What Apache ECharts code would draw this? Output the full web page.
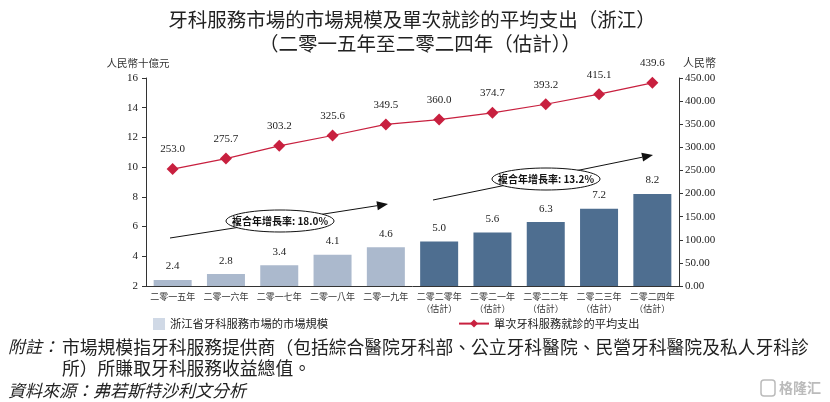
<!DOCTYPE html>
<html><head><meta charset="utf-8">
<script src="https://cdn.jsdelivr.net/npm/echarts@6/dist/echarts.min.js"></script>
<style>html,body{margin:0;padding:0;background:#fff}#c{width:830px;height:402px}</style>
</head><body><div id="c"></div>
<script>
const categories = ['二零一五年','二零一六年','二零一七年','二零一八年','二零一九年','二零二零年\n（估計）','二零二一年\n（估計）','二零二二年\n（估計）','二零二三年\n（估計）','二零二四年\n（估計）'];
const marketSize = [2.4, 2.8, 3.4, 4.1, 4.6, 5.0, 5.6, 6.3, 7.2, 8.2];
const avgSpend = [253.0, 275.7, 303.2, 325.6, 349.5, 360.0, 374.7, 393.2, 415.1, 439.6];
const leftTicks = {min: 2, max: 16, interval: 2};
const rightTicks = {min: 0, max: 450, interval: 50};
const seriesNames = ['浙江省牙科服務市場的市場規模', '單次牙科服務就診的平均支出'];
const cagrLabels = ['複合年增長率: 18.0%', '複合年增長率: 13.2%'];

const LIGHT = '#abb9cd', DARK = '#4e6e90', RED = '#c8203f';
const serif = '"Liberation Serif","DejaVu Serif",serif';
const cjk = '"Noto Sans CJK TC","Noto Sans CJK SC",sans-serif';

const chart = echarts.init(document.getElementById('c'));
const barData = marketSize.map((v, i) => ({value: v, itemStyle: {color: categories[i].indexOf('估計') >= 0 ? DARK : LIGHT}}));

function arrow(x1, y1, x2, y2) {
  const a = Math.atan2(y2 - y1, x2 - x1), L = 11, W = 4.5;
  const bx = x2 - L * Math.cos(a), by = y2 - L * Math.sin(a);
  return [
    {type: 'line', shape: {x1, y1, x2: bx, y2: by}, style: {stroke: '#111', lineWidth: 1}},
    {type: 'polygon', shape: {points: [[x2, y2], [bx - W * Math.sin(a), by + W * Math.cos(a)], [bx + W * Math.sin(a), by - W * Math.cos(a)]]}, style: {fill: '#111'}}
  ];
}
function bubble(cx, cy, rx, ry, text) {
  return [
    {type: 'ellipse', shape: {cx, cy, rx, ry}, style: {fill: '#fff', stroke: '#111', lineWidth: 1}, z: 10},
    {type: 'text', x: cx, y: cy, z: 11, style: {text, fill: '#111', font: 'bold 10px ' + cjk, align: 'center', verticalAlign: 'middle'}}
  ];
}

const graphics = [
  {type: 'text', x: 412, y: 20, style: {text: '牙科服務市場的市場規模及單次就診的平均支出（浙江）', font: '19.5px ' + cjk, fill: '#222', align: 'center', verticalAlign: 'middle'}},
  {type: 'text', x: 420, y: 44, style: {text: '（二零一五年至二零二四年（估計））', font: '19.5px ' + cjk, fill: '#222', align: 'center', verticalAlign: 'middle'}},
  {type: 'text', x: 8, y: 347, style: {text: '附註：', font: 'italic 17px ' + cjk, fill: '#222', verticalAlign: 'middle'}},
  {type: 'text', x: 62, y: 347, style: {text: '市場規模指牙科服務提供商（包括綜合醫院牙科部、公立牙科醫院、民營牙科醫院及私人牙科診', font: '17.8px ' + cjk, fill: '#222', verticalAlign: 'middle'}},
  {type: 'text', x: 62, y: 368, style: {text: '所）所賺取牙科服務收益總值。', font: '17.8px ' + cjk, fill: '#222', verticalAlign: 'middle'}},
  {type: 'text', x: 8, y: 391, style: {text: '資料來源：弗若斯特沙利文分析', font: 'italic 17px ' + cjk, fill: '#222', verticalAlign: 'middle'}},
  {type: 'rect', shape: {x: 761, y: 380, width: 14, height: 16, r: 3}, style: {fill: 'none', stroke: '#bbb', lineWidth: 1.5}},
  {type: 'text', x: 779, y: 388, style: {text: '格隆汇', font: 'bold 14px ' + cjk, fill: '#bbb', verticalAlign: 'middle'}},
  ...arrow(170, 238, 388, 204),
  ...bubble(280, 221, 54, 11, cagrLabels[0]),
  ...arrow(433, 200, 653, 155),
  ...bubble(546, 179, 54, 11, cagrLabels[1])
];

chart.setOption({
  animation: false,
  grid: {left: 146, right: 151, top: 78, bottom: 116},
  legend: [
    {left: 148, top: 313, itemWidth: 12, itemHeight: 12, itemGap: 6, textStyle: {fontSize: 11.3, fontFamily: cjk, color: '#222'},
     data: [{name: seriesNames[0], icon: 'rect', itemStyle: {color: '#d0d9e6'}}]},
    {left: 453, top: 313, itemWidth: 30, itemHeight: 10, textStyle: {fontSize: 11.2, fontFamily: cjk, color: '#222'},
     data: [{name: seriesNames[1]}]}
  ],
  xAxis: {
    type: 'category', data: categories,
    axisLine: {lineStyle: {color: '#333'}},
    axisTick: {show: false},
    axisLabel: {fontSize: 9, fontFamily: cjk, color: '#333', lineHeight: 12, interval: 0, margin: 5}
  },
  yAxis: [
    {type: 'value', ...leftTicks, name: '人民幣十億元', nameGap: 10, nameTextStyle: {fontFamily: cjk, fontSize: 10.5, color: '#333', align: 'center', padding: [0, 16, 0, 0]},
     axisLine: {show: true, lineStyle: {color: '#333'}}, axisTick: {show: true, length: 4},
     splitLine: {show: false}, axisLabel: {fontFamily: serif, fontSize: 11, color: '#222', margin: 8}},
    {type: 'value', ...rightTicks, name: '人民幣', nameGap: 10, nameTextStyle: {fontFamily: cjk, fontSize: 11, color: '#333', align: 'left', padding: [0, 0, 0, 4]},
     axisLine: {show: true, lineStyle: {color: '#333'}}, axisTick: {show: true, length: 4},
     splitLine: {show: false}, axisLabel: {fontFamily: serif, fontSize: 11, color: '#222', margin: 6, formatter: v => v.toFixed(2)}}
  ],
  series: [
    {name: seriesNames[0], type: 'bar', yAxisIndex: 0, data: barData, barWidth: 38,
     itemStyle: {color: LIGHT},
     label: {show: true, position: 'top', distance: 8, fontFamily: serif, fontSize: 11, color: '#222', formatter: p => p.value.toFixed(1)}},
    {name: seriesNames[1], type: 'line', yAxisIndex: 1, data: avgSpend, symbol: 'diamond', symbolSize: 12,
     itemStyle: {color: RED}, lineStyle: {color: RED, width: 1.2},
     label: {show: true, position: 'top', distance: 8, fontFamily: serif, fontSize: 11, color: '#222', formatter: p => p.value.toFixed(1)}}
  ],
  graphic: graphics
});
</script></body></html>
